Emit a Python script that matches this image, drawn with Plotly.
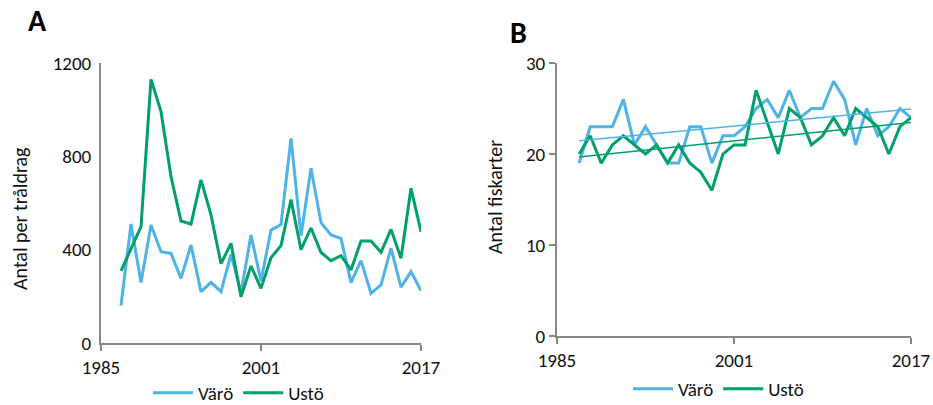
import numpy as np
import plotly.graph_objects as go

# Years of sampling
years = list(range(1987, 2018))

# Panel A: catch per trawl haul
varo_catch = [160, 510, 259, 506, 391, 384, 277, 420, 220, 260, 220, 380, 215, 463, 265,
              484, 508, 877, 460, 749, 516, 463, 448, 259, 353, 213, 249, 406, 239, 306, 224]
usto_catch = [309, 406, 499, 1130, 992, 713, 523, 510, 699, 549, 340, 427, 198, 330, 234,
              365, 418, 615, 400, 493, 388, 353, 374, 313, 437, 437, 389, 487, 363, 663, 477]

# Panel B: number of fish species
varo_species = [19, 23, 23, 23, 26, 21, 23, 21, 19, 19, 23, 23, 19, 22, 22,
                23, 25, 26, 24, 27, 24, 25, 25, 28, 26, 21, 25, 22, 23, 25, 24]
usto_species = [20, 22, 19, 21, 22, 21, 20, 21, 19, 21, 19, 18, 16, 20, 21,
                21, 27, 23.5, 20, 25, 24, 21, 22, 24, 22, 25, 24, 23, 20, 23, 24]

x_ticks = [1985, 2001, 2017]
series_names = ["Värö", "Ustö"]

BLUE = "#4FB3E8"
GREEN = "#00A06A"
AXIS = "#878787"
FONT = "Carlito, Calibri, Liberation Sans Narrow, Lato, sans-serif"
TICK_SIZE = 19
TITLE_SIZE = 20

W, H = 933, 405


def px_x(p):
    return p / W


def px_y(p):
    return (H - p) / H


fig = go.Figure()

# Panel A lines
fig.add_trace(go.Scatter(x=years, y=varo_catch, mode="lines", name=series_names[0],
                         line=dict(color=BLUE, width=3), xaxis="x", yaxis="y",
                         legend="legend"))
fig.add_trace(go.Scatter(x=years, y=usto_catch, mode="lines", name=series_names[1],
                         line=dict(color=GREEN, width=3), xaxis="x", yaxis="y",
                         legend="legend"))

# Panel B lines with linear trends
for vals, color, name in [(varo_species, BLUE, series_names[0]),
                          (usto_species, GREEN, series_names[1])]:
    fig.add_trace(go.Scatter(x=years, y=vals, mode="lines", name=name,
                             line=dict(color=color, width=3), xaxis="x2", yaxis="y2",
                             legend="legend2"))
for vals, color in [(varo_species, BLUE), (usto_species, GREEN)]:
    k, m = np.polyfit(years, vals, 1)
    ends = [years[0], years[-1]]
    fig.add_trace(go.Scatter(x=ends, y=[k * e + m for e in ends], mode="lines",
                             line=dict(color=color, width=1.5), showlegend=False,
                             hoverinfo="skip", xaxis="x2", yaxis="y2"))

axis_common = dict(showline=True, linecolor=AXIS, linewidth=2, ticks="outside",
                   ticklen=6, tickwidth=2, tickcolor=AXIS, showgrid=False,
                   zeroline=False, automargin=False,
                   tickfont=dict(family=FONT, size=TICK_SIZE, color="#111"))

legend_common = dict(orientation="h", xanchor="left", yanchor="middle",
                     font=dict(family=FONT, size=TICK_SIZE, color="#111"),
                     bgcolor="rgba(0,0,0,0)", itemwidth=40)


def label(text, x, y, size, angle=0, color="#111"):
    return dict(text=text, textangle=angle, x=px_x(x), y=px_y(y),
                xref="paper", yref="paper", xanchor="center", yanchor="middle",
                showarrow=False, font=dict(family=FONT, size=size, color=color))


fig.update_layout(
    width=W, height=H,
    margin=dict(l=0, r=0, t=0, b=0, autoexpand=False),
    paper_bgcolor="white", plot_bgcolor="white",
    font=dict(family=FONT, color="#111"),
    xaxis=dict(domain=[px_x(101), px_x(421)], range=[1985, 2017],
               tickvals=x_ticks, anchor="y", **axis_common),
    yaxis=dict(domain=[px_y(343), px_y(63)], range=[0, 1200], dtick=400,
               anchor="x", ticklabelstandoff=4, **{**axis_common, "ticks": ""}),
    xaxis2=dict(domain=[px_x(557), px_x(911)], range=[1985, 2017],
                tickvals=x_ticks, anchor="y2", **axis_common),
    yaxis2=dict(domain=[px_y(336), px_y(63)], range=[0, 30], dtick=10,
                anchor="x2", **axis_common),
    legend=dict(x=px_x(148), y=px_y(393), **legend_common),
    legend2=dict(x=px_x(628), y=px_y(389), **legend_common),
    annotations=[
        label("<b>A</b>", 37, 20, 30, color="#000"),
        label("<b>B</b>", 518, 32, 30, color="#000"),
        label("Antal per tråldrag", 20, 219, TITLE_SIZE, angle=-90),
        label("Antal fiskarter", 495, 197, TITLE_SIZE, angle=-90),
    ],
)

fig.write_html("out.html")
